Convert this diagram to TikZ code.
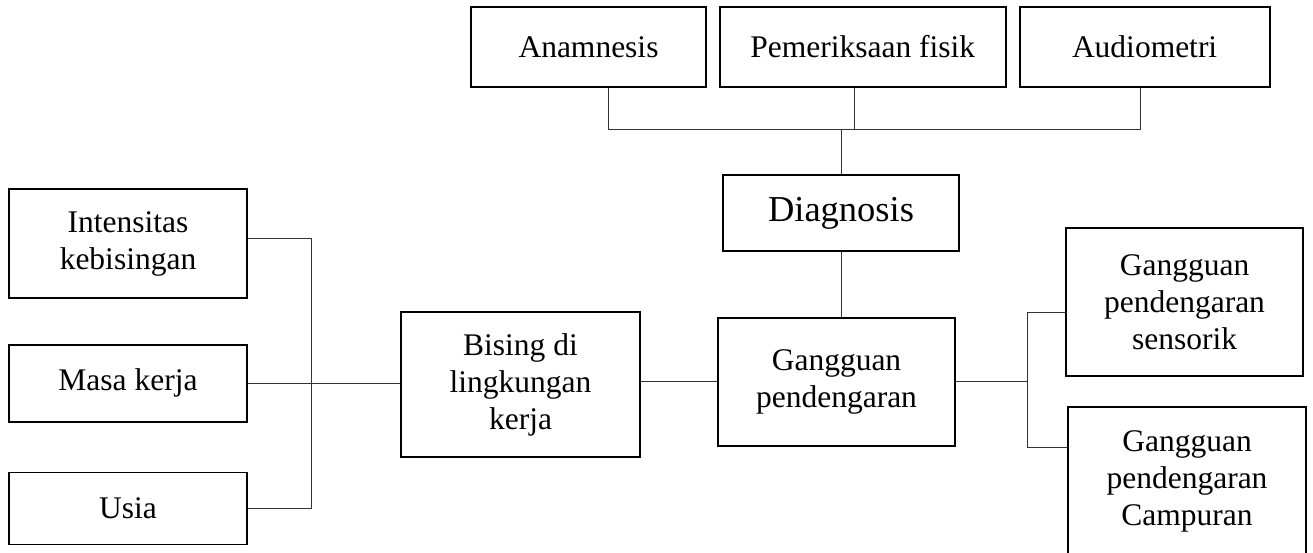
\documentclass[tikz,border=0pt]{standalone}
\usepackage{fontspec}
\setmainfont{Liberation Serif}
\usetikzlibrary{positioning,calc}

\begin{document}
\begin{tikzpicture}[
    x=1pt, y=1pt,
    node distance=12pt,
    box/.style={rectangle, draw, line width=1.8pt, inner sep=0pt, align=center, font=\fontsize{31.5}{37}\selectfont},
    link/.style={draw, line width=1pt, black!80}
]
\useasboundingbox (0,0) rectangle (1313,553);

% Factors (Left)
\node[box, minimum width=238pt, minimum height=109pt] (intens) at (128,309.5) {Intensitas\\kebisingan};
\node[box, minimum width=238pt, minimum height=77pt, below=45pt of intens] (masa) {Masa kerja};
\node[box, minimum width=238pt, minimum height=72pt, below=49pt of masa] (usia) {Usia};

% Core
\node[box, minimum width=239pt, minimum height=145pt] (bising) at (520.5,168.5) {Bising di\\lingkungan\\kerja};
\node[box, minimum width=237pt, minimum height=128pt] (gangguan) at (836.5,171) {Gangguan\\pendengaran};
\node[box, minimum width=236pt, minimum height=76pt, font=\fontsize{36.5}{42}\selectfont] (diag) at (841,340) {Diagnosis};

% Examinations (Top)
\node[box, minimum width=235pt, minimum height=80pt] (anam) at (588.5,506) {Anamnesis};
\node[box, minimum width=286pt, minimum height=80pt, right=12pt of anam] (fisik) {Pemeriksaan fisik};
\node[box, minimum width=250pt, minimum height=80pt, right=12pt of fisik] (audio) {Audiometri};

% Outcomes (Right)
\node[box, minimum width=237pt, minimum height=148pt] (sens) at (1184.5,251) {Gangguan\\pendengaran\\sensorik};
\node[box, minimum width=238pt, minimum height=148pt] (camp) at (1187,72) {Gangguan\\pendengaran\\Campuran};

% Junction points
\coordinate (jl) at (311,0);
\coordinate (jr) at (1027,0);
\coordinate (jt) at (0,423);
\coordinate (i1) at ([yshift=4.5pt]intens.east);
\coordinate (s1) at ([yshift=-11pt]sens.west);
\coordinate (c1) at ([yshift=33pt]camp.west);
\coordinate (a1) at ([xshift=19.5pt]anam.south);
\coordinate (f1) at ([xshift=-8pt]fisik.south);
\coordinate (u1) at ([xshift=-4pt]audio.south);

% Lines
\draw[link] (i1) -| (jl |- usia.east) -- (usia.east);
\draw[link] (masa.east) -- (masa.east -| bising.west);
\draw[link] (bising.east |- gangguan.west) -- (gangguan.west);
\draw[link] (gangguan.east) -- (jr |- gangguan.east);
\draw[link] (s1) -| (jr |- c1) -- (c1);
\draw[link] (a1) -- (a1 |- jt) -- (u1 |- jt) -- (u1);
\draw[link] (f1) -- (f1 |- jt);
\draw[link] (diag.north) -- (diag.north |- jt);
\draw[link] (diag.south) -- (diag.south |- gangguan.north);

\end{tikzpicture}
\end{document}
